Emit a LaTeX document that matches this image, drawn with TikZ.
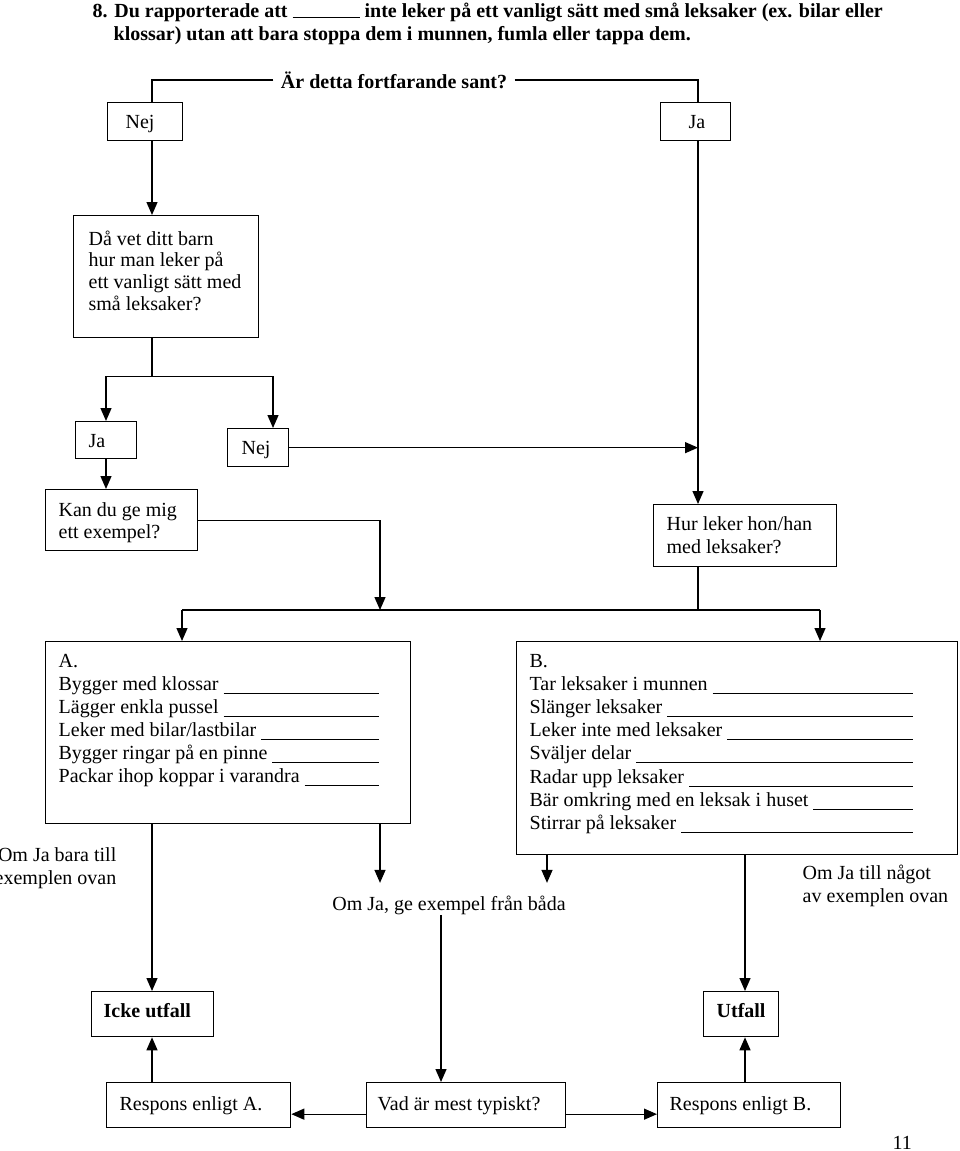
\documentclass[tikz,border=0pt]{standalone}
\usepackage{fontspec}
\setmainfont{Liberation Serif}
\usetikzlibrary{arrows.meta}
\newcommand\blankfill{\leaders\hrule height -2.5pt depth 3.5pt\hfill}
\newcommand\fillline[2]{\makebox[#1][l]{#2\ \blankfill}}
\begin{document}
\begin{tikzpicture}[x=1pt,y=-1pt,line width=1.3pt,
  box/.style={draw,rectangle,inner sep=0pt,anchor=north west},
  txt/.style={inner sep=0pt,font=\fontsize{20}{22.5}\selectfont,align=left,anchor=base west},
  btxt/.style={inner sep=0pt,font=\fontsize{20}{23}\selectfont\bfseries,align=left,anchor=base west},
  arr/.style={-{Triangle[length=13pt,width=11pt]}}]
\useasboundingbox (0,0) rectangle (960,1151);
\fill[white] (0,0) rectangle (960,1151);

% title
\node[btxt] (t1) at (92,17) {8. Du rapporterade att \rule[-1pt]{67pt}{1pt} inte leker på ett vanligt sätt med små leksaker (ex. bilar eller};
\node[btxt] (t2) at (113,40) {klossar) utan att bara stoppa dem i munnen, fumla eller tappa dem.};

\node[inner xsep=7pt,inner ysep=0pt,font=\fontsize{20}{23}\selectfont\bfseries] (q) at (394,80) {Är detta fortfarande sant?};

% boxes
\node[box,minimum width=75pt,minimum height=38pt] (Nej1) at (107,102) {};
\node[box,minimum width=70pt,minimum height=38pt] (Ja1) at (660,102) {};
\node[box,minimum width=185pt,minimum height=122pt] (Dav) at (73,215) {};
\node[box,minimum width=61pt,minimum height=37pt] (Ja2) at (75,421) {};
\node[box,minimum width=61pt,minimum height=38pt] (Nej2) at (227,428) {};
\node[box,minimum width=152pt,minimum height=61pt] (Kan) at (45,489) {};
\node[box,minimum width=183pt,minimum height=62pt] (Hur) at (653,504) {};
\node[box,minimum width=365pt,minimum height=182pt] (A) at (45,641) {};
\node[box,minimum width=441pt,minimum height=213pt] (B) at (516,641) {};
\node[box,minimum width=122pt,minimum height=45pt] (Icke) at (91,991) {};
\node[box,minimum width=75pt,minimum height=45pt] (Utf) at (703,991) {};
\node[box,minimum width=184pt,minimum height=45pt] (RA) at (106,1082) {};
\node[box,minimum width=199pt,minimum height=45pt] (Vad) at (366,1082) {};
\node[box,minimum width=183pt,minimum height=45pt] (RB) at (657,1082) {};

% texts (multi-line nodes are anchored at the baseline of their last line)
\node[txt] (Nej1t) at (125,128) {Nej};
\node[txt] (Ja1t) at (688,128) {Ja};
\node[txt,font=\fontsize{20}{21.8}\selectfont] (Davt) at (88,310.4) {Då vet ditt barn\\hur man leker på\\ett vanligt sätt med\\små leksaker?};
\node[txt] (Ja2t) at (88,447) {Ja};
\node[txt] (Nej2t) at (241,454) {Nej};
\node[txt,font=\fontsize{20}{22}\selectfont] (Kant) at (58,538) {Kan du ge mig\\ett exempel?};
\node[txt,font=\fontsize{20}{23.5}\selectfont] (Hurt) at (666,553.5) {Hur leker hon/han\\med leksaker?};
\node[txt,font=\fontsize{20}{23}\selectfont] (At) at (58,782) {A.\\
  \fillline{320pt}{Bygger med klossar}\\
  \fillline{320pt}{Lägger enkla pussel}\\
  \fillline{320pt}{Leker med bilar/lastbilar}\\
  \fillline{320pt}{Bygger ringar på en pinne}\\
  \fillline{320pt}{Packar ihop koppar i varandra}};
\node[txt,font=\fontsize{20}{23.2}\selectfont] (Bt) at (529,829.4) {B.\\
  \fillline{383pt}{Tar leksaker i munnen}\\
  \fillline{383pt}{Slänger leksaker}\\
  \fillline{383pt}{Leker inte med leksaker}\\
  \fillline{383pt}{Sväljer delar}\\
  \fillline{383pt}{Radar upp leksaker}\\
  \fillline{383pt}{Bär omkring med en leksak i huset}\\
  \fillline{383pt}{Stirrar på leksaker}};
\node[txt,font=\fontsize{20}{23}\selectfont,align=right,anchor=base east] (OmA) at (117,884) {Om Ja bara till\\exemplen ovan};
\node[txt] (OmB) at (802,902) {Om Ja till något\\av exemplen ovan};
\node[txt,anchor=base] (T) at (449,910) {Om Ja, ge exempel från båda};
\node[btxt] (Icket) at (103,1017) {Icke utfall};
\node[btxt] (Utft) at (716,1017) {Utfall};
\node[txt] (RAt) at (119,1110) {Respons enligt A.};
\node[txt] (Vadt) at (377,1110) {Vad är mest typiskt?};
\node[txt] (RBt) at (669,1110) {Respons enligt B.};
\node[txt] (page) at (892,1149) {11};

% connectors
\coordinate (Ttop) at ([yshift=12pt]T.north);
\draw (q.west) -| ([xshift=45pt]Nej1.north west);
\draw (q.east) -| ([xshift=38pt]Ja1.north west);
\draw[arr] ([xshift=45pt]Nej1.south west) coordinate (p1) -- (p1 |- Dav.north);
\draw[arr] ([xshift=38pt]Ja1.south west) coordinate (p2) -- (p2 |- Hur.north);
\draw ([xshift=79pt]Dav.south west) -- ++(0,38) coordinate (dm);
\draw[arr] (dm) -| ([xshift=31pt]Ja2.north west);
\draw[arr] (dm) -| ([xshift=46pt]Nej2.north west);
\draw[arr] (Nej2.east) -- (Nej2.east -| p2);
\draw[arr] ([xshift=31pt]Ja2.south west) coordinate (j) -- (j |- Kan.north);
\coordinate (busL) at (182,610);
\coordinate (busR) at (820,610);
\coordinate (busK) at (380,610);
\draw[arr] (Kan.east) -| (busK);
\draw (Hur.south -| p2) -- (p2 |- busR);
\draw (busL) -- (busR);
\draw[arr] (busL) -- (busL |- A.north);
\draw[arr] (busR) -- (busR |- B.north);
\draw[arr] ([xshift=107pt]A.south west) coordinate (a1) -- (a1 |- Icke.north);
\draw[arr] ([xshift=335pt]A.south west) coordinate (a2) -- (a2 |- Ttop);
\draw[arr] ([xshift=31pt]B.south west) coordinate (b1) -- (b1 |- Ttop);
\draw[arr] ([xshift=229pt]B.south west) coordinate (b2) -- (b2 |- Utf.north);
\draw[arr] ([xshift=-8pt]T.south) coordinate (t1) -- (t1 |- Vad.north);
\draw[arr] ([yshift=-9pt]Vad.west) coordinate (v1) -- (v1 -| RA.east);
\draw[arr] ([yshift=-9pt]Vad.east) coordinate (v2) -- (v2 -| RB.west);
\draw[arr] ([xshift=46pt]RA.north west) coordinate (r1) -- (r1 |- Icke.south);
\draw[arr] ([xshift=88pt]RB.north west) coordinate (r2) -- (r2 |- Utf.south);
\end{tikzpicture}
\end{document}
